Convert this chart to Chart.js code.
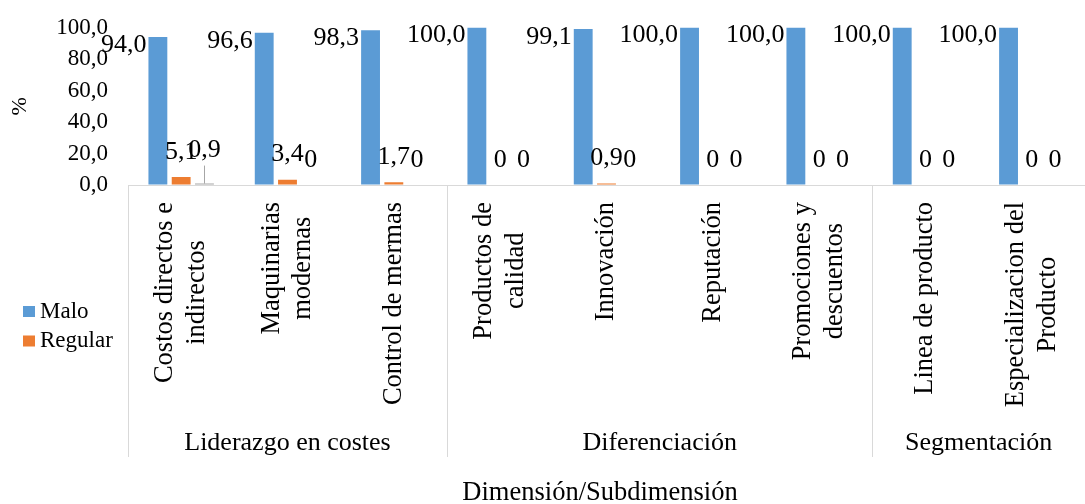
<!DOCTYPE html>
<html>
<head>
<meta charset="utf-8">
<script src="https://cdn.jsdelivr.net/npm/chart.js@4.4.1/dist/chart.umd.min.js"></script>
<style>
  html, body { margin: 0; padding: 0; background: #fff; }
  #grafico { display: block; }
</style>
</head>
<body>
<canvas id="grafico" width="1085" height="504"></canvas>
<script>
const subdimensiones = [
  ['Costos directos e', 'indirectos'],
  ['Maquinarias', 'modernas'],
  ['Control de mermas'],
  ['Productos de', 'calidad'],
  ['Innovación'],
  ['Reputación'],
  ['Promociones y', 'descuentos'],
  ['Linea de producto'],
  ['Especializacion del', 'Producto']
];
const dimensiones = ['Liderazgo en costes', 'Diferenciación', 'Segmentación'];
const subdimensionesPorDimension = [3, 4, 2];

const malo = [94.0, 96.6, 98.3, 100.0, 99.1, 100.0, 100.0, 100.0, 100.0];
const regular = [5.1, 3.4, 1.7, 0, 0.9, 0, 0, 0, 0];
const bueno = [0.9, 0, 0, 0, 0, 0, 0, 0, 0];

const yTicks = [0, 20, 40, 60, 80, 100];
const enLeyenda = ['Malo', 'Regular'];

const SERIF = "'Liberation Serif', 'Times New Roman', serif";
Chart.defaults.font.family = SERIF;
Chart.defaults.color = '#000';

function coma(v) {
  return v.toFixed(1).replace('.', ',');
}

// etiquetas de valor: Malo a la izquierda de la barra, el resto encima
const etiquetasBarras = {
  id: 'etiquetasBarras',
  afterDatasetsDraw(chart) {
    const ctx = chart.ctx;
    ctx.save();
    ctx.font = `26px ${SERIF}`;
    ctx.fillStyle = '#000';
    ctx.textBaseline = 'middle';
    chart.data.datasets.forEach((ds, di) => {
      chart.getDatasetMeta(di).data.forEach((bar, i) => {
        const v = ds.data[i];
        const txt = v === 0 ? '0' : coma(v);
        if (di === 0) {
          ctx.textAlign = 'right';
          ctx.fillText(txt, bar.x - bar.width / 2 - 2, bar.y + 8);
          return;
        }
        ctx.textAlign = 'center';
        // la etiqueta de 0,9 quedaba encima de 5,1: se sube y lleva linea guia
        const subir = (di === 2 && i === 0) ? 8 : 0;
        const y = bar.y - 25 - subir;
        ctx.fillText(txt, bar.x, y);
        if (subir) {
          ctx.strokeStyle = '#a6a6a6';
          ctx.lineWidth = 1;
          ctx.beginPath();
          ctx.moveTo(Math.round(bar.x) + 0.5, y + 15);
          ctx.lineTo(Math.round(bar.x) + 0.5, bar.y);
          ctx.stroke();
        }
      });
    });
    ctx.restore();
  }
};

// eje X en dos niveles: subdimension (vertical) y dimension
const ejeAgrupado = {
  id: 'ejeAgrupado',
  afterDraw(chart) {
    const ctx = chart.ctx;
    const x = chart.scales.x;
    const area = chart.chartArea;
    const paso = (area.right - area.left) / subdimensiones.length;
    const borde = (k) => area.left + k * paso;

    ctx.save();
    ctx.strokeStyle = '#d9d9d9';
    ctx.lineWidth = 1;
    let acum = 0;
    const cortes = [0];
    subdimensionesPorDimension.forEach(n => { acum += n; cortes.push(acum); });
    cortes.forEach(k => {
      const px = Math.round(borde(k)) + 0.5;
      ctx.beginPath();
      ctx.moveTo(px, area.bottom);
      ctx.lineTo(px, 457);
      ctx.stroke();
    });

    ctx.fillStyle = '#000';
    ctx.font = `26px ${SERIF}`;
    ctx.textAlign = 'center';
    ctx.textBaseline = 'alphabetic';
    dimensiones.forEach((d, g) => {
      const cx = (borde(cortes[g]) + borde(cortes[g + 1])) / 2;
      ctx.fillText(d, cx, 450);
    });

    ctx.font = `26.5px ${SERIF}`;
    ctx.textBaseline = 'middle';
    subdimensiones.forEach((lineas, i) => {
      const cx = x.getPixelForValue(i);
      const ancho = Math.max(...lineas.map(l => ctx.measureText(l).width));
      ctx.save();
      ctx.translate(cx, 202 + ancho / 2);
      ctx.rotate(-Math.PI / 2);
      lineas.forEach((l, k) => {
        ctx.fillText(l, 0, (k - (lineas.length - 1) / 2) * 31.8);
      });
      ctx.restore();
    });

    ctx.font = `26.5px ${SERIF}`;
    ctx.textBaseline = 'alphabetic';
    ctx.fillText('Dimensión/Subdimensión', 600, 500);
    ctx.restore();
  }
};

const leyendaLateral = {
  id: 'leyendaLateral',
  afterDraw(chart) {
    const ctx = chart.ctx;
    ctx.save();
    ctx.font = `23px ${SERIF}`;
    ctx.textBaseline = 'middle';
    ctx.textAlign = 'left';
    let fila = 0;
    chart.data.datasets.forEach(ds => {
      if (!enLeyenda.includes(ds.label)) return;
      const cy = 311.5 + fila * 29.5;
      ctx.fillStyle = ds.backgroundColor;
      ctx.fillRect(23, cy - 5.5, 12, 11);
      ctx.fillStyle = '#000';
      ctx.fillText(ds.label, 40, cy);
      fila++;
    });
    ctx.restore();
  }
};

const ctx = document.getElementById('grafico');
const grafico = new Chart(ctx, {
  type: 'bar',
  data: {
    labels: subdimensiones.map(l => l.join(' ')),
    datasets: [
      { label: 'Malo', data: malo, backgroundColor: '#5b9bd5' },
      { label: 'Regular', data: regular, backgroundColor: '#ed7d31' },
      { label: 'Bueno', data: bueno, backgroundColor: '#a5a5a5' }
    ]
  },
  options: {
    responsive: false,
    animation: false,
    categoryPercentage: 0.657,
    barPercentage: 0.81,
    layout: { padding: { top: 27.5, right: -9, bottom: 0, left: 0 } },
    plugins: {
      legend: { display: false },
      tooltip: { enabled: false }
    },
    scales: {
      x: {
        grid: { display: false, drawTicks: false },
        border: { display: true, color: '#d9d9d9', width: 1 },
        ticks: { display: false },
        afterFit(scale) { scale.height = 319; }
      },
      y: {
        min: 0,
        max: 100,
        // marcas invisibles: dejan el hueco entre numeros y barras
        grid: {
          display: true,
          drawOnChartArea: false,
          drawTicks: true,
          tickLength: 20,
          color: 'rgba(0,0,0,0)'
        },
        border: { display: false },
        afterBuildTicks(scale) { scale.ticks = yTicks.map(v => ({ value: v })); },
        ticks: {
          autoSkip: false,
          padding: 0,
          font: { size: 23 },
          callback: (v) => coma(v)
        },
        title: {
          display: true,
          text: '%',
          font: { size: 22 },
          padding: { top: 7, bottom: 0 }
        },
        afterFit(scale) { scale.width = 128; }
      }
    }
  },
  plugins: [etiquetasBarras, ejeAgrupado, leyendaLateral]
});
</script>
</body>
</html>
